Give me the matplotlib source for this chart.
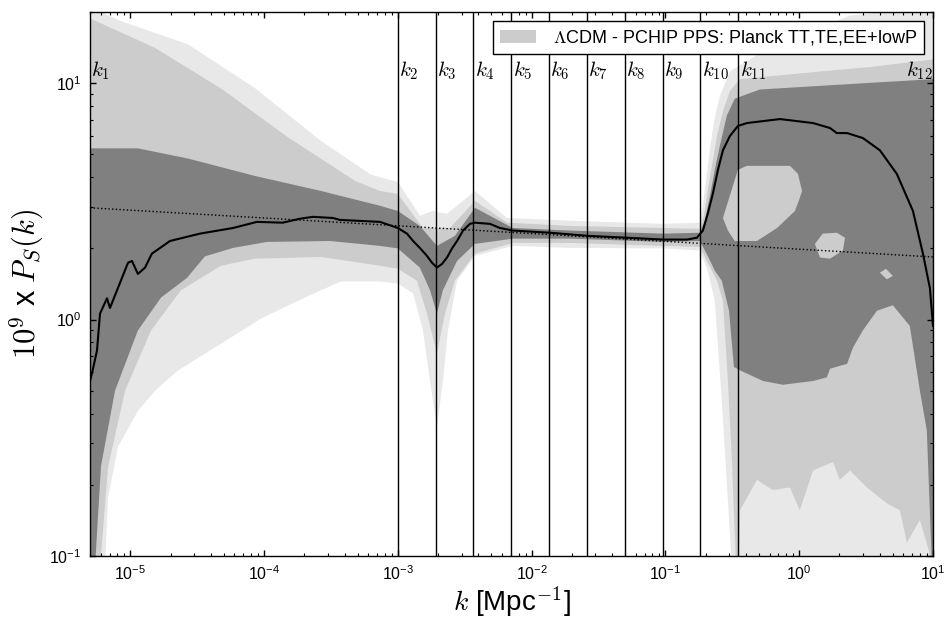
import numpy as np
import matplotlib
matplotlib.use('Agg')
import matplotlib.pyplot as plt
from matplotlib.ticker import FuncFormatter, NullFormatter, LogLocator

plt.rcParams['font.family'] = 'sans-serif'
plt.rcParams['font.sans-serif'] = ['Liberation Sans', 'DejaVu Sans']
plt.rcParams['mathtext.fontset'] = 'cm'

# Reconstructed PPS: 3 sigma (light), 2 sigma (mid), 1 sigma (dark) bands
k_hi99 = [5.0e-6, 8.5e-6, 2.7e-5, 8.6e-5, 2.66e-4, 6.3e-4, 1.0e-3, 1.46e-3, 1.83e-3, 2.33e-3,
          3.77e-3, 6.55e-3, 1.93e-2, 9.6e-2, 0.181, 0.1905, 0.201, 0.215, 0.231, 0.255,
          0.303, 0.508, 1.01, 2.39, 10.0]
p_hi99 = [21.0, 18.3, 14.6, 9.5, 5.7, 4.1, 3.82, 2.75, 2.88, 2.80,
          3.50, 2.69, 2.62, 2.54, 2.57, 3.03, 3.86, 5.2, 6.92, 8.8,
          11.2, 13.4, 15.8, 19.3, 21.1]
k_lo99 = [5.0e-6, 6.47e-6, 6.82e-6, 8.09e-6, 1.14e-5, 1.53e-5, 2.28e-5, 4.76e-5, 9.48e-5, 2.02e-4,
          3.76e-4, 7.35e-4, 1.0e-3, 1.30e-3, 1.54e-3, 1.74e-3, 1.96e-3, 2.17e-3, 2.37e-3, 2.77e-3,
          3.77e-3, 7.24e-3, 1.93e-2, 9.6e-2, 0.181, 0.207, 0.234, 0.264, 0.293, 0.314, 10.0]
p_lo99 = [0.09, 0.09, 0.177, 0.29, 0.41, 0.50, 0.61, 0.79, 1.01, 1.24,
          1.45, 1.45, 1.42, 1.29, 0.90, 0.55, 0.35, 0.55, 0.90, 1.46,
          1.86, 2.05, 2.01, 2.00, 1.96, 1.61, 1.20, 0.45, 0.172, 0.09, 0.09]

k_hi95 = [5.0e-6, 1.53e-5, 4.76e-5, 1.51e-4, 4.79e-4, 7.35e-4, 1.0e-3, 1.54e-3, 1.96e-3, 2.45e-3,
          3.77e-3, 6.55e-3, 1.93e-2, 9.6e-2, 0.181, 0.194, 0.207, 0.223, 0.243, 0.269,
          0.303, 0.361, 1.01, 3.37, 10.0]
p_hi95 = [18.8, 14.1, 9.5, 5.9, 3.86, 3.50, 3.40, 2.44, 2.44, 2.44,
          3.18, 2.57, 2.49, 2.44, 2.42, 2.75, 3.50, 4.5, 5.97, 7.6,
          9.25, 10.4, 11.0, 11.7, 12.6]
k_lo95 = [5.0e-6, 5.94e-6, 6.82e-6, 9.14e-6, 1.43e-5, 2.39e-5, 4.76e-5, 8.55e-5, 2.66e-4, 7.35e-4,
          1.0e-3, 1.39e-3, 1.65e-3, 1.96e-3, 2.25e-3, 2.67e-3, 3.77e-3, 7.24e-3, 1.93e-2, 9.6e-2,
          0.181, 0.207, 0.243, 0.269, 0.293, 0.314, 0.337, 0.355, 0.361, 0.483,
          0.635, 0.853, 1.01, 1.27, 1.79, 2.01, 2.39, 3.21, 4.52, 5.66,
          6.38, 7.98, 9.16, 10.0]
p_lo95 = [0.09, 0.09, 0.238, 0.50, 0.90, 1.33, 1.69, 1.81, 1.84, 1.69,
          1.64, 1.46, 1.06, 0.72, 1.06, 1.46, 1.90, 2.11, 2.11, 2.05,
          2.03, 1.74, 1.46, 1.20, 0.553, 0.254, 0.09, 0.09, 0.156, 0.21,
          0.19, 0.195, 0.156, 0.23, 0.25, 0.21, 0.23, 0.195, 0.167, 0.156,
          0.114, 0.142, 0.109, 0.09]

k_hi68 = [5.0e-6, 1.14e-5, 2.7e-5, 8.55e-5, 2.66e-4, 7.35e-4, 1.0e-3, 1.46e-3, 1.96e-3, 2.67e-3,
          3.77e-3, 7.24e-3, 1.93e-2, 9.6e-2, 0.181, 0.197, 0.215, 0.234, 0.255, 0.288,
          0.330, 0.508, 1.70, 10.0]
p_hi68 = [5.3, 5.3, 4.8, 4.05, 3.50, 3.03, 2.88, 2.49, 2.05, 2.26,
          2.97, 2.44, 2.38, 2.31, 2.33, 2.62, 3.33, 4.3, 5.42, 7.3,
          8.6, 9.4, 9.8, 10.4]
k_lo68 = [5.0e-6, 5.45e-6, 6.04e-6, 7.69e-6, 1.14e-5, 1.70e-5, 2.65e-5, 3.61e-5, 5.86e-5, 1.05e-4,
          3.11e-4, 7.35e-4, 1.0e-3, 1.46e-3, 1.74e-3, 1.96e-3, 2.17e-3, 2.77e-3, 3.77e-3, 7.24e-3,
          1.93e-2, 9.6e-2, 0.181, 0.207, 0.234, 0.264, 0.299, 0.325, 0.361, 0.536,
          0.755, 1.27, 1.61, 1.70, 2.28, 2.52, 2.99, 3.81, 5.01, 6.71,
          7.98, 8.99, 9.82, 10.0]
p_lo68 = [0.09, 0.09, 0.24, 0.50, 0.90, 1.24, 1.50, 1.85, 2.01, 2.13,
          2.15, 2.05, 2.00, 1.66, 1.33, 1.06, 1.33, 1.77, 2.09, 2.20,
          2.20, 2.13, 2.15, 1.86, 1.61, 1.46, 1.09, 0.63, 0.61, 0.55,
          0.53, 0.55, 0.57, 0.62, 0.65, 0.76, 0.90, 1.09, 1.15, 0.94,
          0.50, 0.34, 0.09, 0.09]

# 2 sigma islands inside the 1 sigma region at high k
k_isl1 = [0.269, 0.348, 0.406, 0.853, 0.977, 1.05, 1.01, 0.929, 0.683, 0.483, 0.330, 0.293]
p_isl1 = [2.69, 4.3, 4.47, 4.47, 4.14, 3.50, 3.27, 2.88, 2.44, 2.15, 2.15, 2.38]
k_isl2 = [1.43, 1.31, 1.50, 1.91, 2.20, 2.12, 1.70]
p_isl2 = [1.83, 2.09, 2.31, 2.33, 2.22, 1.96, 1.81]
k_isl3 = [4.01, 4.45, 5.01, 4.52]
p_isl3 = [1.58, 1.64, 1.53, 1.48]

# Median reconstruction
k_med = [5.0e-6, 5.2e-6, 5.64e-6, 5.94e-6, 6.70e-6, 7.05e-6, 7.96e-6, 9.62e-6, 1.03e-5, 1.14e-5,
         1.29e-5, 1.45e-5, 1.98e-5, 3.32e-5, 5.86e-5, 8.85e-5, 1.38e-4, 1.85e-4, 2.32e-4, 3.27e-4,
         3.69e-4, 7.35e-4, 1.0e-3, 1.17e-3, 1.30e-3, 1.46e-3, 1.65e-3, 1.80e-3, 1.96e-3, 2.14e-3,
         2.33e-3, 2.54e-3, 2.77e-3, 3.07e-3, 3.46e-3, 3.77e-3, 4.89e-3, 5.79e-3, 7.24e-3, 1.37e-2,
         2.64e-2, 5.15e-2, 9.59e-2, 0.145, 0.172, 0.1905, 0.207, 0.226, 0.247, 0.269,
         0.303, 0.348, 0.406, 0.718, 1.27, 1.70, 1.91, 2.28, 2.99, 4.01,
         5.37, 7.08, 8.41, 9.48, 10.0]
p_med = [0.55, 0.60, 0.74, 1.06, 1.23, 1.12, 1.33, 1.74, 1.77, 1.56,
         1.66, 1.90, 2.15, 2.31, 2.44, 2.59, 2.57, 2.67, 2.72, 2.69,
         2.64, 2.59, 2.44, 2.31, 2.15, 2.01, 1.86, 1.74, 1.66, 1.72,
         1.83, 2.00, 2.15, 2.38, 2.54, 2.57, 2.54, 2.44, 2.38, 2.33,
         2.26, 2.22, 2.18, 2.18, 2.22, 2.38, 2.80, 3.40, 4.3, 5.2,
         5.97, 6.59, 6.78, 7.05, 6.78, 6.46, 6.15, 6.15, 5.86, 5.2,
         4.13, 2.88, 1.90, 1.36, 0.94]

# LCDM power law (end points)
k_lcdm = [5.0e-6, 10.0]
p_lcdm = [2.97, 1.84]

# knot positions
k_knots = [5.0e-6, 1.0e-3, 1.92e-3, 3.67e-3, 7.05e-3, 1.35e-2, 2.59e-2, 4.97e-2, 9.53e-2, 0.182, 0.350, 10.0]

c_light = '#e8e8e8'
c_mid = '#cccccc'
c_dark = '#808080'

fig = plt.figure(figsize=(9.44, 6.19), dpi=100)
ax = fig.add_axes([90 / 944, 1 - 556 / 619, 843 / 944, 544 / 619])
ax.set_xscale('log')
ax.set_yscale('log')


def band(k_hi, p_hi, k_lo, p_lo, color, **kw):
    kk = np.concatenate([k_hi, k_lo[::-1]])
    pp = np.concatenate([p_hi, p_lo[::-1]])
    return ax.fill(kk, pp, color=color, lw=0, **kw)


band(k_hi99, p_hi99, k_lo99, p_lo99, c_light)
band(k_hi95, p_hi95, k_lo95, p_lo95, c_mid,
     label=r'$\Lambda$CDM - PCHIP PPS: Planck TT,TE,EE+lowP')
band(k_hi68, p_hi68, k_lo68, p_lo68, c_dark)
for kk, pp in [(k_isl1, p_isl1), (k_isl2, p_isl2), (k_isl3, p_isl3)]:
    ax.fill(kk, pp, color=c_mid, lw=0)

ax.plot(k_lcdm, p_lcdm, 'k:', lw=1)
ax.plot(k_med, p_med, 'k-', lw=1.5)

# knot lines and labels
for kk in k_knots[1:-1]:
    ax.axvline(kk, color='k', lw=1)
for i, kk in enumerate(k_knots):
    if i == len(k_knots) - 1:
        ax.annotate(r'$k_{%d}$' % (i + 1), xy=(kk, 11.3), xytext=(0, 0), textcoords='offset points',
                    ha='right', va='center', fontsize=15)
    else:
        ax.annotate(r'$k_{%d}$' % (i + 1), xy=(kk, 11.3), xytext=(1, 0), textcoords='offset points',
                    ha='left', va='center', fontsize=15)

ax.set_xlim(5e-6, 10)
ax.set_ylim(0.1, 20)

fmt = FuncFormatter(lambda v, pos: r'$\mathregular{10^{%d}}$' % int(round(np.log10(v))))
for axis in (ax.xaxis, ax.yaxis):
    axis.set_major_locator(LogLocator(base=10))
    axis.set_minor_locator(LogLocator(base=10, subs=np.arange(2, 10)))
    axis.set_major_formatter(fmt)
    axis.set_minor_formatter(NullFormatter())
ax.tick_params(which='both', direction='in', top=True, right=True, labelsize=11.5, pad=6)
ax.tick_params(which='major', length=4.5, width=1)
ax.tick_params(which='minor', length=2.5, width=0.8)
for s in ax.spines.values():
    s.set_linewidth(1)

ax.set_xlabel(r'$k$ [Mpc$^{-1}$]', fontsize=20)
ax.set_ylabel(r'$10^9$ x $P_S(k)$', fontsize=22)
ax.xaxis.set_label_coords(0.5, -0.052)
ax.yaxis.set_label_coords(-0.052, 0.5)

leg = ax.legend(loc='upper right', fontsize=13, fancybox=False, framealpha=1,
                edgecolor='k', handlelength=2.0, handletextpad=0.9, borderaxespad=0.5)
leg.get_frame().set_linewidth(1)

fig.savefig('out.png', dpi=100)
